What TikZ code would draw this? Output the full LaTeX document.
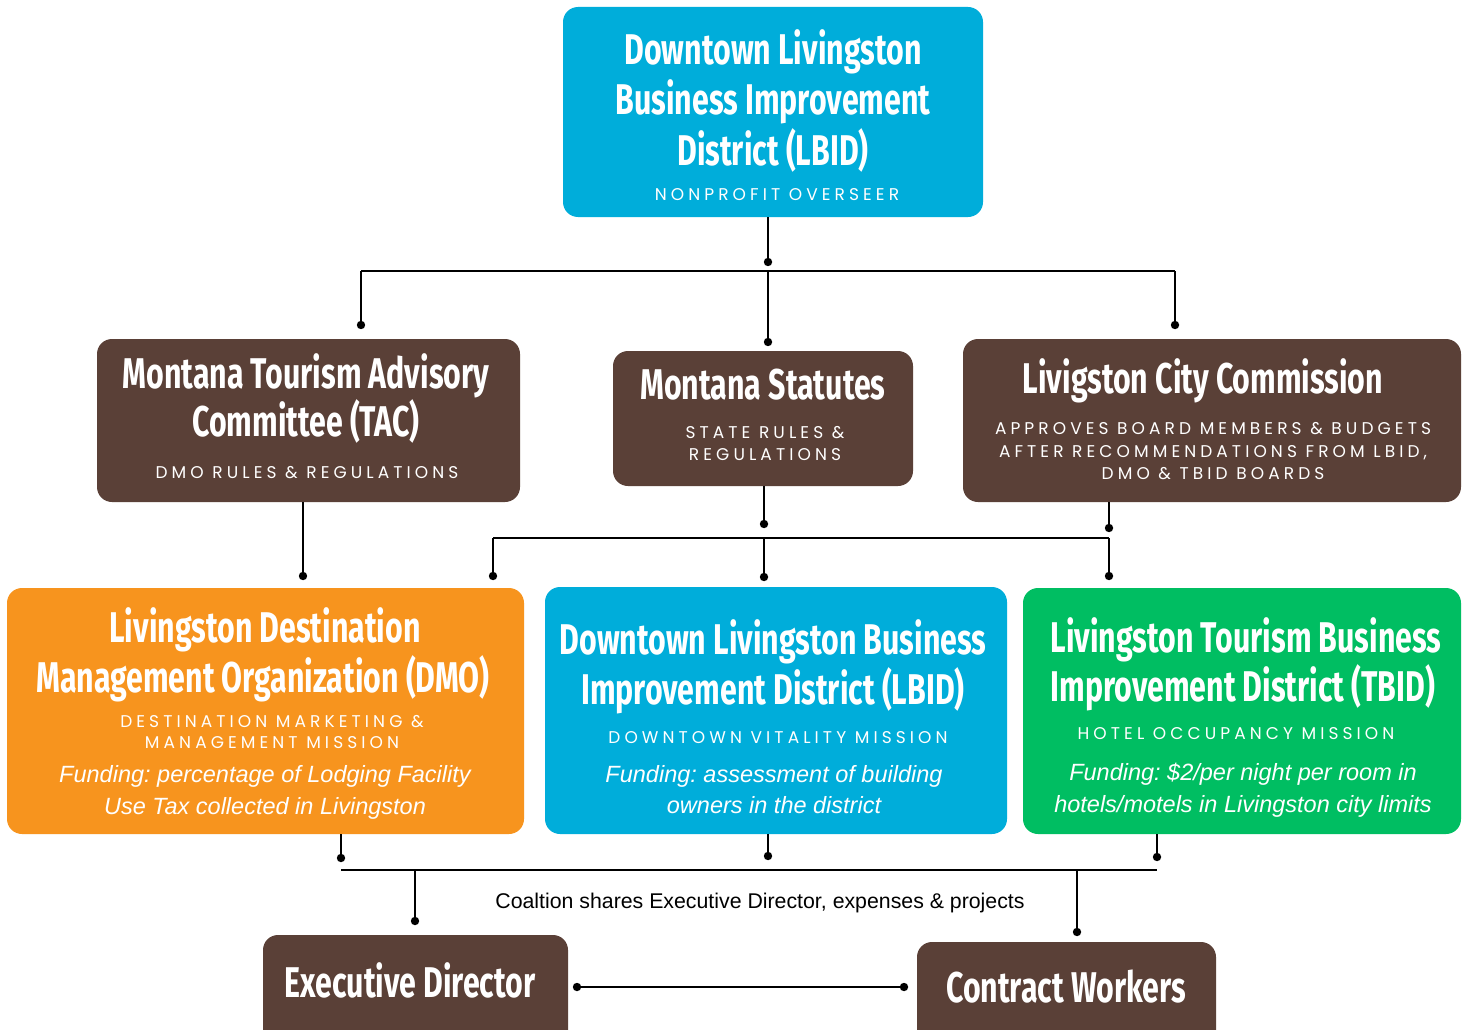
\documentclass[tikz,border=0pt]{standalone}
\usepackage{fontspec}
\setmainfont{Liberation Sans}
\newfontfamily\headfont[FakeStretch=0.705]{Fira Sans}
\newfontfamily\tagfont[LetterSpace=24]{Poppins}
\definecolor{skyblue}{RGB}{0,173,218}
\definecolor{bark}{RGB}{90,64,55}
\definecolor{amber}{RGB}{247,148,30}
\definecolor{meadow}{RGB}{0,190,98}
\frenchspacing
\tikzset{
  panel/.style={rectangle, rounded corners=15pt, inner sep=0pt, draw=none},
  headline/.style={anchor=base, inner sep=0pt, text=white, font=\headfont\bfseries\fontsize{43}{50}\selectfont},
  tagline/.style={anchor=base, inner sep=0pt, text=white, font=\tagfont\fontsize{17}{20}\selectfont},
  fundline/.style={anchor=base, inner sep=0pt, text=white, font=\itshape\fontsize{23.5}{30}\selectfont},
  wire/.style={line width=2pt, black},
  dotmark/.style={fill=black}
}
\begin{document}
\begin{tikzpicture}[x=1pt,y=-1pt]
\clip (0,0) rectangle (1464,1030);
\fill[white] (0,0) rectangle (1464,1030);

% ---- top: overseer ----
\node[panel, fill=skyblue, minimum width=420pt, minimum height=210pt] (top) at (773,112) {};
\node[headline] (top1) at (773,65) {Downtown Livingston};
\node[headline] (top2) at (773,115) {Business Improvement};
\node[headline] (top3) at (773,165) {District (LBID)};
\node[tagline] (top4) at (777,200) {NONPROFIT OVERSEER};

% ---- second row: rule makers ----
\node[panel, fill=bark, minimum width=423pt, minimum height=163pt] (tac) at (308.5,420.5) {};
\node[headline] (tac1) at (306,388) {Montana Tourism Advisory};
\node[headline] (tac2) at (306,436) {Committee (TAC)};
\node[tagline] (tac3) at (307,478) {DMO RULES \& REGULATIONS};

\node[panel, fill=bark, minimum width=300pt, minimum height=135pt] (stat) at (763,418.5) {};
\node[headline] (stat1) at (763,399) {Montana Statutes};
\node[tagline] (stat2) at (765,438) {STATE RULES \&};
\node[tagline] (stat3) at (765,460) {REGULATIONS};

\node[panel, fill=bark, minimum width=498pt, minimum height=163pt] (city) at (1212,420.5) {};
\node[headline] (city1) at (1203,393) {Livigston City Commission};
\node[tagline] (city2) at (1213,434) {APPROVES BOARD MEMBERS \& BUDGETS};
\node[tagline] (city3) at (1213,457) {AFTER RECOMMENDATIONS FROM LBID,};
\node[tagline] (city4) at (1213,479) {DMO \& TBID BOARDS};

% ---- third row: coalition members ----
\node[panel, fill=amber, minimum width=517pt, minimum height=246pt] (dmo) at (265.5,711) {};
\node[headline] (dmo1) at (265,642) {Livingston Destination};
\node[headline] (dmo2) at (263,692) {Management Organization (DMO)};
\node[tagline] (dmo3) at (272,727) {DESTINATION MARKETING \&};
\node[tagline] (dmo4) at (272,748) {MANAGEMENT MISSION};
\node[fundline] (dmo5) at (265,782) {Funding: percentage of Lodging Facility};
\node[fundline] (dmo6) at (265,814) {Use Tax collected in Livingston};

\node[panel, fill=skyblue, minimum width=462pt, minimum height=247pt] (lbid) at (776,710.5) {};
\node[headline] (lbid1) at (773,654) {Downtown Livingston Business};
\node[headline] (lbid2) at (773,704) {Improvement District (LBID)};
\node[tagline] (lbid3) at (778,743) {DOWNTOWN VITALITY MISSION};
\node[fundline] (lbid4) at (774,782) {Funding: assessment of building};
\node[fundline] (lbid5) at (774,813) {owners in the district};

\node[panel, fill=meadow, minimum width=438pt, minimum height=246pt] (tbid) at (1242,711) {};
\node[headline] (tbid1) at (1246,652) {Livingston Tourism Business};
\node[headline] (tbid2) at (1243,701) {Improvement District (TBID)};
\node[tagline] (tbid3) at (1236,739) {HOTEL OCCUPANCY MISSION};
\node[fundline] (tbid4) at (1243,780) {Funding: \$2/per night per room in};
\node[fundline] (tbid5) at (1243,812) {hotels/motels in Livingston city limits};

% ---- bottom row: shared staff ----
\node[panel, fill=bark, minimum width=305pt, minimum height=120pt] (ed) at (415.5,995) {};
\node[headline] (ed1) at (410,997) {Executive Director};
\node[panel, fill=bark, minimum width=299pt, minimum height=116pt] (cw) at (1066.5,1000) {};
\node[headline] (cw1) at (1066,1002) {Contract Workers};

\node[anchor=base, inner sep=0pt, font=\fontsize{21.3}{24}\selectfont] (note) at (760,908)
  {Coaltion shares Executive Director, expenses \& projects};

% ---- connectors ----
\coordinate (d0) at (768,262);
\coordinate (b1L) at (361,271);
\coordinate (b1R) at (1175,271);
\coordinate (d1a) at (361,325);
\coordinate (d1b) at (768,342);
\coordinate (d1c) at (1175,325);
\draw[wire] (d0 |- top.south) -- (d0);
\draw[wire] (b1L) -- (b1R);
\draw[wire] (d1a |- b1L) -- (d1a);
\draw[wire] (d1b |- b1L) -- (d1b);
\draw[wire] (d1c |- b1L) -- (d1c);

\coordinate (d2a) at (303,576);
\coordinate (d2b) at (764,524);
\coordinate (d2c) at (1109,528);
\coordinate (b2L) at (493,538);
\coordinate (b2R) at (1109,538);
\coordinate (d3a) at (493,576);
\coordinate (d3b) at (764,577);
\coordinate (d3c) at (1109,576);
\draw[wire] (d2a |- tac.south) -- (d2a);
\draw[wire] (d2b |- stat.south) -- (d2b);
\draw[wire] (d2c |- city.south) -- (d2c);
\draw[wire] (b2L) -- (b2R);
\draw[wire] (d3a |- b2L) -- (d3a);
\draw[wire] (d3b |- b2L) -- (d3b);
\draw[wire] (d3c |- b2L) -- (d3c);

\coordinate (d4a) at (341,858);
\coordinate (d4b) at (768,856);
\coordinate (d4c) at (1157,857);
\coordinate (b3L) at (341,870);
\coordinate (b3R) at (1157,870);
\coordinate (d5a) at (415,921);
\coordinate (d5b) at (1077,932);
\draw[wire] (d4a |- dmo.south) -- (d4a);
\draw[wire] (d4b |- lbid.south) -- (d4b);
\draw[wire] (d4c |- tbid.south) -- (d4c);
\draw[wire] (b3L) -- (b3R);
\draw[wire] (d5a |- b3L) -- (d5a);
\draw[wire] (d5b |- b3L) -- (d5b);

\coordinate (e1) at (577,987);
\coordinate (e2) at (904,987);
\draw[wire] (e1) -- (e2);

\foreach \p in {d0,d1a,d1b,d1c,d2a,d2b,d2c,d3a,d3b,d3c,d4a,d4b,d4c,d5a,d5b,e1,e2}
  \fill[dotmark] (\p) circle (4.2pt);
\end{tikzpicture}
\end{document}
